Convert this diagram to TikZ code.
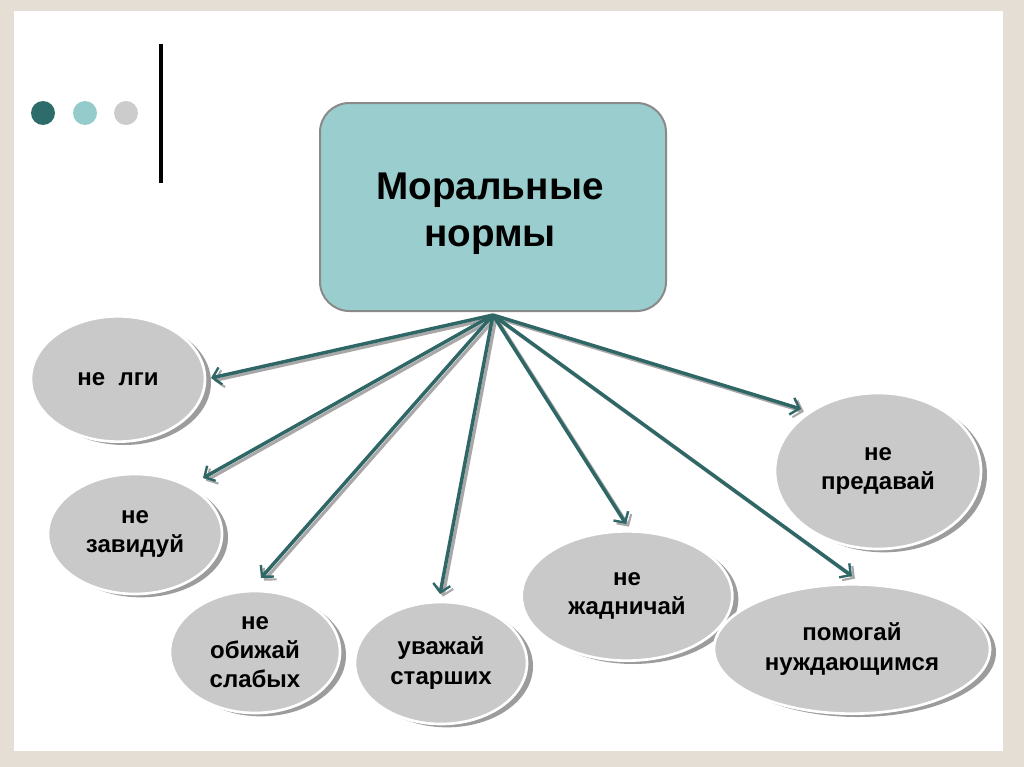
\documentclass[tikz,border=0pt]{standalone}
\usepackage{fontspec}
\setmainfont{Liberation Sans}
\usetikzlibrary{shapes.geometric,arrows.meta,shadows}
\definecolor{framebg}{HTML}{E4DED4}
\definecolor{dotdark}{HTML}{2E6B6B}
\definecolor{dotlight}{HTML}{96CBCB}
\definecolor{dotgray}{HTML}{CCCCCC}
\definecolor{boxfill}{HTML}{9ACDCD}
\definecolor{boxline}{HTML}{8A8A8A}
\definecolor{ovalfill}{HTML}{C9C9C9}
\definecolor{ovalshadow}{HTML}{9C9C9C}
\definecolor{arrowteal}{HTML}{2F6666}
\definecolor{arrowshadow}{HTML}{A8A8A8}
\begin{document}
\begin{tikzpicture}[x=0.75pt,y=-0.75pt,
  dot/.style={circle,inner sep=0pt,minimum size=18pt},
  mainbox/.style={draw=boxline,line width=1.5pt,fill=boxfill,rounded corners=22pt,
    minimum width=259.5pt,minimum height=156pt},
  title/.style={align=center,font=\fontsize{29}{35}\selectfont\bfseries},
  oval/.style={ellipse,fill=ovalfill,draw=white,line width=2pt,inner sep=0pt,align=center,
    font=\fontsize{18}{22}\selectfont\bfseries,
    drop shadow={shadow xshift=4.5pt,shadow yshift=-2.5pt,fill=ovalshadow,opacity=1}},
  arr/.style={draw=arrowteal,line width=2.6pt,-{Straight Barb[length=6pt,width=13pt,line width=1.8pt]}},
  arrsh/.style={draw=arrowshadow,line width=2.4pt,-{Straight Barb[length=6pt,width=13pt,line width=1.6pt]},
    transform canvas={shift={(2.2pt,-2pt)}}}
]
\useasboundingbox (0,0) rectangle (1024,767);
\fill[framebg] (0,0) rectangle (1024,767);
\fill[white] (14,11) rectangle (1003,751);

\node[dot,fill=dotdark] (d1) at (43,113) {};
\node[dot,fill=dotlight] (d2) at (85,113) {};
\node[dot,fill=dotgray] (d3) at (126,113) {};
\draw[line width=2.4pt] (161,44) -- (161,183);

\node[mainbox] (main) at (493,207) {};
\node[title] (ttl) at (490,214) {Моральные\\нормы};

\node[oval,minimum width=130.5pt,minimum height=94pt] (e1) at (118,379) {не\ \ лги};
\node[oval,minimum width=130.5pt,minimum height=90pt] (e2) at (135,534) {не\\завидуй};
\node[oval,minimum width=127.5pt,minimum height=91.5pt] (e3) at (255,652) {не\\обижай\\слабых};
\node[oval,minimum width=129pt,minimum height=91.5pt] (e4) at (441,663) {уважай\\старших};
\node[oval,minimum width=158pt,minimum height=97pt] (e5) at (627,596) {не\\жадничай};
\node[oval,minimum width=154.5pt,minimum height=117pt] (e6) at (878,471) {не\\предавай};
\node[oval,minimum width=207pt,minimum height=97pt] (e7) at (852,649) {помогай\\нуждающимся};

\coordinate (hub) at (493,315);
\coordinate (t1) at (211,378);
\coordinate (t2) at (203,478);
\coordinate (t3) at (261,578);
\coordinate (t4) at (440,594);
\coordinate (t5) at (626,524);
\coordinate (t6) at (801,409);
\coordinate (t7) at (852,576);

\foreach \t in {t1,t2,t3,t4,t5,t6,t7}{
  \draw[arrsh] (hub) -- (\t);
}
\foreach \t in {t1,t2,t3,t4,t5,t6,t7}{
  \draw[arr] (hub) -- (\t);
}
\end{tikzpicture}
\end{document}
